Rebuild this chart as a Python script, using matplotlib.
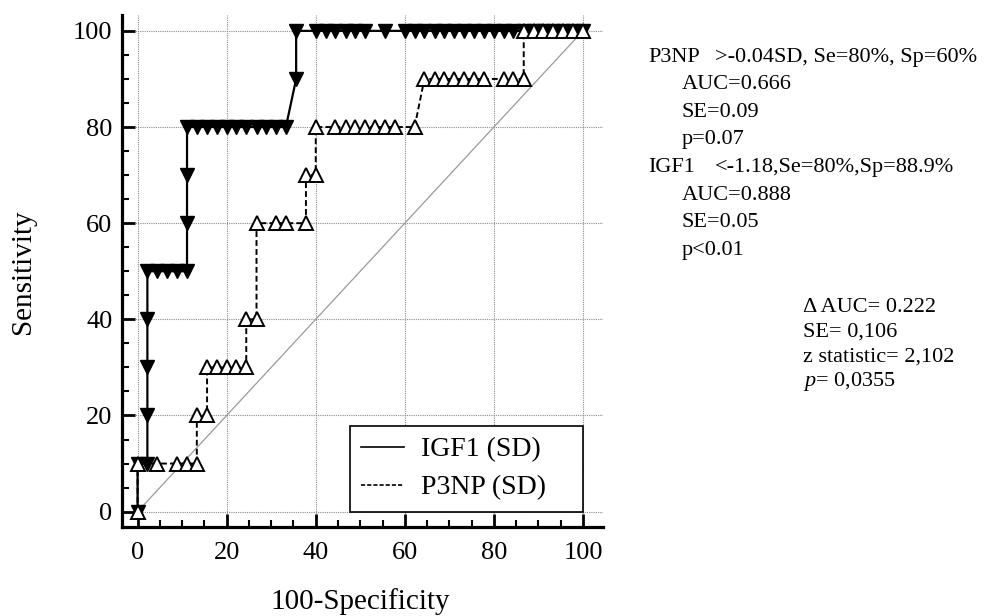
import matplotlib
matplotlib.use("Agg")
import matplotlib.pyplot as plt
from matplotlib.lines import Line2D
from matplotlib.ticker import MultipleLocator

plt.rcParams['font.family'] = ['Liberation Serif', 'DejaVu Serif']
plt.rcParams['mathtext.fontset'] = 'custom'
plt.rcParams['mathtext.rm'] = 'Liberation Serif'
plt.rcParams['mathtext.it'] = 'Liberation Serif:italic'

# ROC points: (100-Specificity, Sensitivity)
igf1_x = [0, 0, 2.2, 2.2, 2.2, 2.2, 2.2, 4.4, 6.7, 8.9, 11.1, 11.1, 11.1, 11.1,
          13.3, 15.6, 17.8, 20.0, 22.2, 24.4, 26.7, 28.9, 31.1, 33.3, 35.6, 35.6,
          40.0, 42.2, 44.4, 46.7, 48.9, 51.1, 55.6, 60.0, 62.2, 64.4, 66.7, 68.9,
          71.1, 73.3, 75.6, 77.8, 80.0, 82.2, 84.4, 86.7, 88.9, 91.1, 93.3, 95.6,
          97.8, 100.0]
igf1_y = [0, 10, 10, 20, 30, 40, 50, 50, 50, 50, 50, 60, 70, 80,
          80, 80, 80, 80, 80, 80, 80, 80, 80, 80, 90, 100,
          100, 100, 100, 100, 100, 100, 100, 100, 100, 100, 100, 100,
          100, 100, 100, 100, 100, 100, 100, 100, 100, 100, 100, 100,
          100, 100]

p3np_x = [0, 0, 4.4, 8.9, 11.1, 13.3, 13.3, 15.6, 15.6, 17.8, 20.0, 22.2, 24.4,
          24.4, 26.7, 26.7, 31.1, 33.3, 37.8, 37.8, 40.0, 40.0, 44.4, 46.7, 48.9,
          51.1, 53.3, 55.6, 57.8, 62.2, 64.4, 66.7, 68.9, 71.1, 73.3, 75.6, 77.8,
          82.2, 84.4, 86.7, 86.7, 88.9, 91.1, 93.3, 95.6, 97.8, 100.0]
p3np_y = [0, 10, 10, 10, 10, 10, 20, 20, 30, 30, 30, 30, 30,
          40, 40, 60, 60, 60, 60, 70, 70, 80, 80, 80, 80,
          80, 80, 80, 80, 80, 90, 90, 90, 90, 90, 90, 90,
          90, 90, 90, 100, 100, 100, 100, 100, 100, 100]

ticks = [0, 20, 40, 60, 80, 100]
legend_labels = ['IGF1 (SD)', 'P3NP (SD)']

p3np_head = ['P3NP', '>-0.04SD, Se=80%, Sp=60%']
p3np_stats = ['AUC=0.666', 'SE=0.09', 'p=0.07']
igf1_head = ['IGF1', '<-1.18,Se=80%,Sp=88.9%']
igf1_stats = ['AUC=0.888', 'SE=0.05', 'p<0.01']
compare_stats = ['\u0394 AUC= 0.222', 'SE= 0,106', 'z statistic= 2,102',
                 r'$\mathit{p}$= 0,0355']

W, H = 984, 616
fig = plt.figure(figsize=(W / 100, H / 100), dpi=100)
ax = fig.add_axes([122 / W, (H - 527) / H, (603 - 122) / W, (527 - 15) / H])
ax.set_xlim(-3.5, 104.5)
ax.set_ylim(-3.2, 103.3)

ax.plot([0, 100], [0, 100], color='#9a9a9a', lw=0.9, zorder=2)
ax.plot(igf1_x, igf1_y, color='black', lw=1.6, marker='v', markersize=9.5,
        markerfacecolor='black', markeredgecolor='black', zorder=3)
ax.plot(p3np_x, p3np_y, color='black', lw=1.4, ls=(0, (3, 1.6)), marker='^',
        markersize=9.5, markerfacecolor='white', markeredgecolor='black',
        markeredgewidth=1.4, zorder=4)

ax.set_xticks(ticks)
ax.set_yticks(ticks)
ax.xaxis.set_minor_locator(MultipleLocator(5))
ax.yaxis.set_minor_locator(MultipleLocator(5))
ax.tick_params(which='major', direction='in', length=9.5, width=2.0,
               labelsize=19, colors='black')
ax.tick_params(axis='x', which='major', pad=11)
ax.tick_params(axis='y', which='major', pad=7)
ax.tick_params(which='minor', direction='in', length=5, width=1.5)
ax.grid(True, which='major', color='#8c8c8c', lw=0.8, ls=(0, (1, 1)), zorder=1)
for side in ['top', 'right']:
    ax.spines[side].set_visible(False)
for side in ['left', 'bottom']:
    ax.spines[side].set_linewidth(2.3)

handles = [Line2D([], [], color='black', lw=1.2),
           Line2D([], [], color='black', lw=1.2, ls=(0, (2.5, 1.2)))]
leg = ax.legend(handles, legend_labels, loc='lower left',
                bbox_to_anchor=(47.7, 0, 52.3, 10), bbox_transform=ax.transData,
                mode='expand', borderaxespad=0, fontsize=20, fancybox=False,
                framealpha=1, edgecolor='black', handlelength=1.55,
                handletextpad=0.6, borderpad=0.4, labelspacing=0.45)
leg.get_frame().set_linewidth(1.2)
leg.set_zorder(6)

fig.text(23 / W, 1 - 271.7 / H, 'Sensitivity', rotation=90, fontsize=21,
         ha='center', va='center')
fig.text(360 / W, 1 - 601.7 / H, '100-Specificity', fontsize=21,
         ha='center', va='center')

# statistics beside the plot
step = 27.57
y0 = 61.7
fig.text(648 / W, 1 - y0 / H, p3np_head[0], fontsize=16, va='baseline')
fig.text(715 / W, 1 - y0 / H, p3np_head[1], fontsize=16, va='baseline')
for i, s in enumerate(p3np_stats):
    fig.text(681.7 / W, 1 - (y0 + step * (i + 1)) / H, s, fontsize=16, va='baseline')
y1 = y0 + step * 4
fig.text(648 / W, 1 - y1 / H, igf1_head[0], fontsize=16, va='baseline')
fig.text(715 / W, 1 - y1 / H, igf1_head[1], fontsize=16, va='baseline')
for i, s in enumerate(igf1_stats):
    fig.text(681.7 / W, 1 - (y1 + step * (i + 1)) / H, s, fontsize=16, va='baseline')

for i, s in enumerate(compare_stats):
    fig.text(803.3 / W, 1 - (311.7 + 24.8 * i) / H, s, fontsize=16, va='baseline')

fig.savefig('out.png', dpi=100)
